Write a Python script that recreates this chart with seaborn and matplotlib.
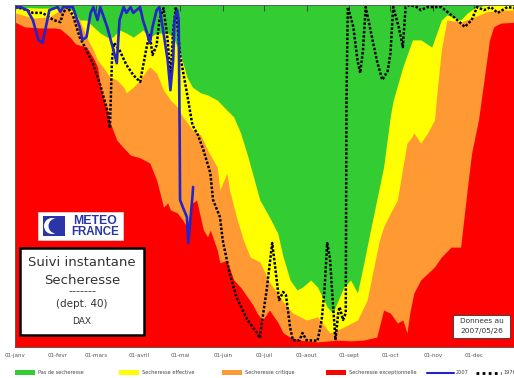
import matplotlib
matplotlib.use("Agg")
import matplotlib.pyplot as plt
from matplotlib.patches import Rectangle, Ellipse
from matplotlib.lines import Line2D
import seaborn as sns

# x axis: day of year, labels on the first of each month
month_days = [0, 31, 59, 90, 120, 151, 181, 212, 243, 273, 304, 334]
month_labels = ["01-janv", "01-fevr", "01-mars", "01-avril", "01-mai", "01-juin",
                "01-juil", "01-aout", "01-sept", "01-oct", "01-nov", "01-dec"]

band_labels = ["Pas de secheresse", "Secheresse effective",
               "Secheresse critique", "Secheresse exceptionnelle"]
band_colors = ["#33cc33", "#ffff00", "#ff9933", "#ff0000"]

# upper edge of each drought band (index 0-100)
yellow_days = [0, 18, 33, 42, 47, 52, 57, 62, 67, 71, 76, 81, 86, 93, 98, 103, 111, 115,
               120, 125, 129, 135, 140, 147, 154, 159, 164, 169, 173, 178, 185, 191, 195,
               200, 205, 209, 215, 220, 227, 231, 239, 244, 249, 253, 258, 263, 268, 273,
               275, 282, 289, 295, 303, 310, 314, 324, 329, 334, 343, 365]
yellow_top = [99.4, 99.1, 99.1, 98.5, 95.6, 95.6, 93.6, 91.8, 90.6, 90.6, 92.7, 91.8, 90.6,
              92.7, 90.6, 91.8, 91.8, 90.6, 86.0, 78.9, 76.0, 74.3, 73.7, 72.2, 69.3, 67.3,
              62.6, 56.1, 50.3, 43.0, 38.0, 33.3, 26.3, 19.6, 16.7, 17.5, 19.6, 17.5, 11.7,
              9.9, 17.5, 19.6, 15.8, 23.4, 33.3, 43.0, 52.6, 67.8, 72.2, 81.9, 89.8, 89.8,
              87.7, 95.6, 97.1, 95.6, 97.7, 99.1, 100, 100]

orange_days = [0, 13, 25, 31, 35, 38, 42, 47, 52, 57, 60, 64, 69, 74, 79, 81, 86, 91, 96,
               98, 103, 108, 113, 118, 122, 129, 135, 140, 147, 149, 154, 156, 161, 166,
               171, 178, 185, 195, 202, 212, 220, 229, 239, 249, 256, 260, 265, 268, 273,
               278, 282, 285, 288, 290, 295, 300, 305, 307, 310, 314, 324, 334, 343, 353, 365]
orange_top = [97.7, 96.2, 96.5, 98.0, 99.1, 99.1, 96.5, 95.6, 90.6, 86.8, 83.9, 81.9, 78.9,
              78.1, 76.0, 74.3, 76.0, 78.1, 81.0, 81.9, 80.1, 75.1, 72.2, 70.2, 67.3, 63.5,
              62.0, 57.6, 52.6, 45.9, 50.9, 45.9, 38.0, 31.3, 26.3, 24.9, 19.0, 13.2, 9.9,
              7.9, 8.8, 4.1, 5.8, 7.9, 13.7, 21.6, 31.3, 35.1, 39.2, 43.0, 52.6, 59.6, 61.1,
              62.6, 59.6, 62.6, 66.4, 75.1, 86.8, 95.6, 95.0, 96.5, 98.0, 98.5, 98.5]

red_days = [0, 7, 18, 29, 33, 40, 44, 52, 57, 60, 62, 64, 67, 69, 74, 79, 84, 91, 98, 103,
            108, 111, 113, 118, 122, 125, 129, 132, 137, 140, 142, 147, 149, 154, 159, 164,
            169, 173, 176, 180, 185, 191, 195, 200, 207, 220, 234, 244, 253, 263, 268, 273,
            278, 282, 285, 287, 290, 295, 305, 310, 317, 324, 329, 332, 337, 341, 345, 348,
            353, 365]
red_top = [95.0, 93.6, 93.3, 93.3, 93.0, 90.6, 88.6, 87.7, 84.5, 81.9, 76.6, 73.1, 69.3,
           65.8, 60.5, 58.2, 56.1, 55.3, 53.8, 48.8, 40.9, 42.1, 40.1, 39.2, 37.1, 35.1,
           42.1, 43.0, 34.2, 32.2, 34.2, 28.4, 24.6, 25.4, 19.6, 17.5, 14.6, 12.3, 9.9, 7.9,
           10.8, 7.3, 4.1, 2.9, 2.0, 1.5, 2.0, 1.8, 2.0, 2.9, 10.8, 9.9, 7.0, 7.9, 4.1, 9.9,
           15.8, 19.6, 23.4, 26.3, 29.2, 29.2, 46.8, 56.7, 66.4, 78.1, 89.8, 93.6, 94.7, 95.0]

# year 2007 (data up to early May)
days_2007 = [0, 4, 9, 13, 17, 20, 22, 25, 31, 33, 35, 42, 47, 49, 52, 55, 57, 60, 62, 67,
             71, 74, 76, 79, 81, 84, 86, 91, 93, 96, 98, 100, 103, 105, 108, 111, 113, 115,
             116, 118, 119, 119.7, 120, 122, 125, 126, 129, 129.5]
vals_2007 = [99.1, 99.4, 98.5, 95.6, 89.8, 88.9, 92.7, 98.5, 99.4, 98.0, 99.4, 99.4, 93.6,
             89.8, 90.6, 97.7, 99.4, 95.6, 99.4, 93.6, 87.7, 83.0, 95.6, 99.4, 97.7, 99.4,
             97.7, 99.4, 95.6, 91.8, 88.9, 93.6, 98.5, 99.4, 91.8, 83.9, 75.1, 83.9, 95.6,
             98.5, 95.6, 63.5, 43.0, 40.9, 38.0, 30.4, 43.9, 46.8]

# reference year 1976
days_1976 = [0, 3.6, 8.7, 13, 20, 28, 33, 35, 38, 42, 47, 52, 57, 62, 67, 69, 70.5, 72, 76,
             81, 86, 91, 93, 96, 98, 100, 103, 105, 108, 111, 113, 115, 117, 120, 125, 129,
             133, 137, 142, 144, 149, 151, 156, 161, 169, 176, 178, 180, 183, 187, 189, 192,
             195, 197, 200, 202, 207, 209, 212, 220, 223, 225, 227, 229, 231, 233, 235, 236,
             238.5, 240.5, 241, 242, 246, 249, 251, 253, 255, 258, 263, 267, 271, 273, 275,
             279, 282, 284, 287, 292, 295, 300, 310, 319, 327, 332, 336, 341, 346, 351, 358,
             363]
vals_1976 = [99.4, 99.1, 98.5, 97.7, 97.7, 95.6, 95.0, 97.7, 99.4, 97.1, 90.6, 86.8, 82.5,
             76.6, 69.3, 64.0, 83.9, 88.9, 86.8, 82.5, 79.5, 77.5, 81.9, 88.3, 91.2, 85.4,
             88.3, 95.6, 99.1, 89.8, 78.1, 92.7, 99.4, 85.4, 74.3, 64.9, 62.0, 57.6, 50.9,
             43.0, 38.0, 31.3, 21.6, 14.6, 7.9, 4.1, 2.6, 8.5, 16.7, 30.4, 24.0, 13.7, 16.1,
             15.2, 5.8, 2.0, 2.0, 4.1, 2.0, 1.8, 7.9, 16.7, 30.4, 26.0, 13.7, 2.0, 9.9, 11.7,
             7.9, 9.9, 72.2, 99.4, 93.6, 83.9, 80.1, 86.8, 99.4, 93.6, 83.9, 78.1, 80.7, 86.0,
             99.4, 93.6, 87.7, 99.4, 100, 99.4, 98.5, 99.4, 99.4, 96.5, 93.6, 95.6, 99.4, 98.5,
             99.4, 97.7, 99.4, 99.1]

W, H = 514, 378


def fx(px):
    return px / W


def fy(py):
    return 1 - py / H


sns.set_style("white")
plt.rcParams["font.family"] = ["DejaVu Sans"]

fig = plt.figure(figsize=(W / 100, H / 100), dpi=100)
ax = fig.add_axes([fx(15), fy(347), 502 / W, 342 / H])

# bands stacked from the top: green background, then yellow, orange, red
ax.set_facecolor(band_colors[0])
ax.fill_between(yellow_days, 0, yellow_top, color=band_colors[1], lw=0)
ax.fill_between(orange_days, 0, orange_top, color=band_colors[2], lw=0)
ax.fill_between(red_days, 0, red_top, color=band_colors[3], lw=0)

sns.lineplot(x=days_1976, y=vals_1976, ax=ax, color="black", lw=1.8,
             linestyle=(0, (1, 0.7)), sort=False, estimator=None)
sns.lineplot(x=days_2007, y=vals_2007, ax=ax, color="#2424c8", lw=1.9,
             sort=False, estimator=None)

ax.set_xlim(0, 365)
ax.set_ylim(0, 100)
ax.set_xticks(month_days, month_labels)
ax.set_yticks([])
ax.set_xlabel("")
ax.set_ylabel("")
ax.tick_params(axis="x", direction="in", length=4, width=0.6, color="#333333",
               top=True, bottom=True, labelsize=4, labelcolor="#555555", pad=4)
for s in ax.spines.values():
    s.set_linewidth(0.6)
    s.set_color("#555555")

# METEO FRANCE logo
fig.add_artist(Rectangle((fx(38), fy(240)), 85 / W, 28 / H, transform=fig.transFigure,
                         facecolor="white", edgecolor="#dddddd", lw=0.5))
fig.add_artist(Rectangle((fx(43), fy(236)), 22 / W, 20 / H, transform=fig.transFigure,
                         facecolor="#2b35a8", lw=0))
fig.add_artist(Ellipse((fx(52), fy(226)), 16 / W, 16 / H, transform=fig.transFigure,
                       facecolor="white", lw=0))
fig.add_artist(Ellipse((fx(56), fy(226)), 15 / W, 15 / H, transform=fig.transFigure,
                       facecolor="#2b35a8", lw=0))
fig.text(fx(95), fy(221), "METEO", fontsize=8.8, fontweight="bold", color="#2b35a8",
         ha="center", va="center", family=["Liberation Sans", "DejaVu Sans"])
fig.text(fx(95), fy(232), "FRANCE", fontsize=8.3, fontweight="bold", color="#2b35a8",
         ha="center", va="center", family=["Liberation Sans", "DejaVu Sans"])

# title box
fig.add_artist(Rectangle((fx(20), fy(335)), 124 / W, 87 / H, transform=fig.transFigure,
                         facecolor="white", edgecolor="black", lw=1.8))
box_lines = [("Suivi instantane", 262, 9.5), ("Secheresse", 280, 9.5),
             ("-------", 291, 8), ("(dept. 40)", 304, 7.5), ("DAX", 322, 6.5)]
for txt, py, fs in box_lines:
    fig.text(fx(82), fy(py), txt, fontsize=fs, color="#333333", ha="center", va="center")

# date box
fig.add_artist(Rectangle((fx(453), fy(338)), 57 / W, 23 / H, transform=fig.transFigure,
                         facecolor="white", edgecolor="#333333", lw=0.6))
fig.text(fx(481.5), fy(321), "Donnees au", fontsize=5.3, color="#333333",
         ha="center", va="center")
fig.text(fx(481.5), fy(331), "2007/05/26", fontsize=5.3, color="#333333",
         ha="center", va="center")

# legend row under the chart
leg_y = 372.5
for i, (lab, col) in enumerate(zip(band_labels, band_colors)):
    x0 = 15 + i * 103.7
    fig.add_artist(Rectangle((fx(x0), fy(leg_y + 2.5)), 20 / W, 5 / H,
                             transform=fig.transFigure, facecolor=col, lw=0))
    fig.text(fx(x0 + 23), fy(leg_y), lab, fontsize=3.6, color="#444444", va="center")
fig.add_artist(Line2D([fx(427), fx(454)], [fy(leg_y), fy(leg_y)], transform=fig.transFigure,
                      color="#2424c8", lw=1.5))
fig.text(fx(456), fy(leg_y), "2007", fontsize=3.6, color="#444444", va="center")
fig.add_artist(Line2D([fx(476), fx(501)], [fy(leg_y), fy(leg_y)], transform=fig.transFigure,
                      color="black", lw=2, linestyle=(0, (1, 1.2))))
fig.text(fx(503), fy(leg_y), "1976", fontsize=3.6, color="#444444", va="center")

fig.savefig("out.png", dpi=100, facecolor="white")
